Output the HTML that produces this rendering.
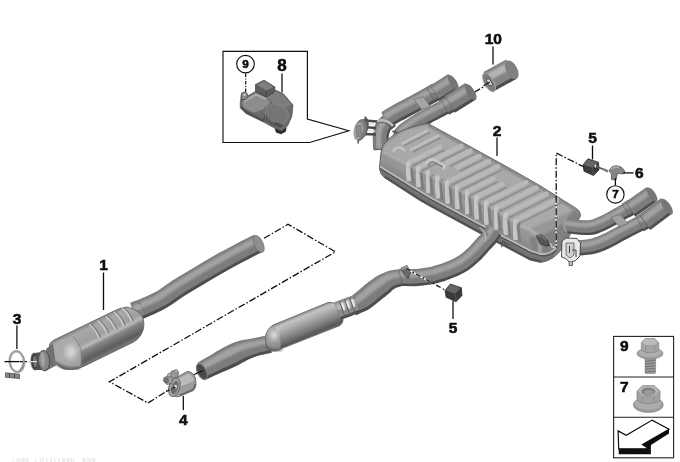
<!DOCTYPE html>
<html lang="en"><head><meta charset="utf-8"><title>Exhaust system</title>
<style>
html,body{margin:0;padding:0;background:#fff;}
body{width:680px;height:462px;overflow:hidden;position:relative;}
svg{display:block;position:absolute;left:0;top:0;}
text{font-family:"Liberation Sans",Arial,sans-serif;font-weight:bold;fill:#0a0a0a;stroke:#0a0a0a;stroke-width:0.55px;}
</style></head><body>
<svg width="680" height="462" viewBox="0 0 680 462">
<defs>
<filter id="b1" x="-20%" y="-20%" width="140%" height="140%"><feGaussianBlur stdDeviation="1.2"/></filter>
<filter id="b2" x="-20%" y="-20%" width="140%" height="140%"><feGaussianBlur stdDeviation="2.5"/></filter>
<filter id="b05" x="-20%" y="-20%" width="140%" height="140%"><feGaussianBlur stdDeviation="0.5"/></filter>
<filter id="soft2" x="-5%" y="-5%" width="110%" height="110%"><feGaussianBlur stdDeviation="0.3"/></filter>
<filter id="soft" x="-5%" y="-5%" width="110%" height="110%"><feGaussianBlur stdDeviation="0.45"/></filter>
<linearGradient id="mufTop" x1="0" y1="0" x2="1" y2="1">
<stop offset="0" stop-color="#a9a9a9"/><stop offset="0.5" stop-color="#b4b4b4"/><stop offset="1" stop-color="#9c9c9c"/>
</linearGradient>
<linearGradient id="catG" gradientUnits="userSpaceOnUse" x1="83" y1="327" x2="98.4" y2="357.8">
<stop offset="0" stop-color="#8c8c8c"/><stop offset="0.1" stop-color="#a9a9a9"/><stop offset="0.42" stop-color="#9f9f9f"/><stop offset="0.54" stop-color="#b9b9b9"/><stop offset="0.64" stop-color="#858585"/><stop offset="0.9" stop-color="#5c5c5c"/><stop offset="1" stop-color="#747474"/>
</linearGradient>
<linearGradient id="resG" gradientUnits="userSpaceOnUse" x1="300" y1="314" x2="309.8" y2="337.5">
<stop offset="0" stop-color="#8a8a8a"/><stop offset="0.13" stop-color="#c4c4c4"/><stop offset="0.32" stop-color="#b0b0b0"/><stop offset="0.52" stop-color="#949494"/><stop offset="0.72" stop-color="#787878"/><stop offset="0.92" stop-color="#565656"/><stop offset="1" stop-color="#6c6c6c"/>
</linearGradient>
</defs>
<rect width="680" height="462" fill="#fff"/>
<g filter="url(#soft)">

<path d="M264,238.3 L288,224.3 L335.5,251.8 L109.5,381.8 L148,403 L167,391" fill="none" stroke="#111" stroke-width="1.3" stroke-dasharray="7 2 1.5 2"/>
<path d="M474,92.5 L490,83" fill="none" stroke="#111" stroke-width="1.3" stroke-dasharray="7 2 1.5 2"/>
<path d="M20,361.6 L37,361.6" fill="none" stroke="#111" stroke-width="1.3" stroke-dasharray="7 2 1.5 2"/>
<path d="M193,375 L203,370.7" fill="none" stroke="#111" stroke-width="1.3" stroke-dasharray="7 2 1.5 2"/>
<path d="M258.5,244.0 C256.0,245.2 249.4,248.5 243.7,251.5 C238.0,254.5 231.5,257.9 224.2,262.0 C216.9,266.1 207.5,271.6 200.0,276.0 C192.5,280.4 184.8,284.9 179.0,288.6 C173.2,292.3 168.7,295.9 165.0,298.3 C161.3,300.7 160.3,301.1 157.0,302.8 C153.7,304.5 148.8,306.7 145.0,308.3 C141.2,309.9 135.8,311.6 134.0,312.3" fill="none" stroke="#4e4e4e" stroke-width="18" stroke-linecap="butt" stroke-linejoin="round"/>
<path d="M258.5,244.0 C256.0,245.2 249.4,248.5 243.7,251.5 C238.0,254.5 231.5,257.9 224.2,262.0 C216.9,266.1 207.5,271.6 200.0,276.0 C192.5,280.4 184.8,284.9 179.0,288.6 C173.2,292.3 168.7,295.9 165.0,298.3 C161.3,300.7 160.3,301.1 157.0,302.8 C153.7,304.5 148.8,306.7 145.0,308.3 C141.2,309.9 135.8,311.6 134.0,312.3" fill="none" stroke="#7b7b7b" stroke-width="16.4" stroke-linecap="butt" stroke-linejoin="round" transform="translate(-0.90,-1.98)"/>
<path d="M258.5,244.0 C256.0,245.2 249.4,248.5 243.7,251.5 C238.0,254.5 231.5,257.9 224.2,262.0 C216.9,266.1 207.5,271.6 200.0,276.0 C192.5,280.4 184.8,284.9 179.0,288.6 C173.2,292.3 168.7,295.9 165.0,298.3 C161.3,300.7 160.3,301.1 157.0,302.8 C153.7,304.5 148.8,306.7 145.0,308.3 C141.2,309.9 135.8,311.6 134.0,312.3" fill="none" stroke="#a2a2a2" stroke-width="6.5" stroke-linecap="butt" stroke-linejoin="round" transform="translate(-1.80,-3.96)" filter="url(#b1)"/>
<ellipse cx="258.7" cy="244" rx="4.4" ry="9.2" transform="rotate(-25 258.7 244)" fill="#8e8e8e" stroke="#6a6a6a" stroke-width="0.6"/>
<path d="M135.0,313.0 L143.0,309.3" fill="none" stroke="#4e4e4e" stroke-width="17.2" stroke-linecap="butt" stroke-linejoin="round"/>
<path d="M135.0,313.0 L143.0,309.3" fill="none" stroke="#828282" stroke-width="15.6" stroke-linecap="butt" stroke-linejoin="round" transform="translate(-0.86,-1.89)"/>
<path d="M135.0,313.0 L143.0,309.3" fill="none" stroke="#a8a8a8" stroke-width="6.2" stroke-linecap="butt" stroke-linejoin="round" transform="translate(-1.72,-3.78)" filter="url(#b1)"/>
<path d="M49.4,345 Q50,342 55,339.5 L112,312 Q120,307.6 127,307 Q139,309.5 143,318 Q145,326 142.5,331.5 Q140,338.5 133,342.3 L84,366.2 Q72,371.5 63,368.5 Q54,364 50,355 Z" fill="url(#catG)" stroke="#5a5a5a" stroke-width="0.8"/>
<path d="M50,347 Q56,340 72,336 Q84,350 80,367 Q68,372 57,364 Q52,358 50,352 Z" fill="#ababab" opacity="0.9" filter="url(#b05)"/>
<ellipse cx="71" cy="352" rx="5.5" ry="7" fill="#d4d4d4" filter="url(#b2)"/>
<path d="M55,362 Q64,371 80,367.5" fill="none" stroke="#5e5e5e" stroke-width="2.5" filter="url(#b1)"/>
<path d="M73,336 Q86,350 81,366.5" fill="none" stroke="#858585" stroke-width="0.9"/>
<path d="M89.5,324.5 q6,5 9.5,13.5" fill="none" stroke="#cdcdcd" stroke-width="1.6" opacity="0.95"/>
<path d="M91.1,324.0 q6,5 9.5,13.5" fill="none" stroke="#777" stroke-width="1.1" opacity="0.95"/>
<path d="M97.7,320.4 q6,5 9.5,13.5" fill="none" stroke="#cdcdcd" stroke-width="1.6" opacity="0.95"/>
<path d="M99.3,319.9 q6,5 9.5,13.5" fill="none" stroke="#777" stroke-width="1.1" opacity="0.95"/>
<path d="M105.9,316.3 q6,5 9.5,13.5" fill="none" stroke="#cdcdcd" stroke-width="1.6" opacity="0.95"/>
<path d="M107.5,315.8 q6,5 9.5,13.5" fill="none" stroke="#777" stroke-width="1.1" opacity="0.95"/>
<path d="M114.1,312.2 q6,5 9.5,13.5" fill="none" stroke="#cdcdcd" stroke-width="1.6" opacity="0.95"/>
<path d="M115.7,311.7 q6,5 9.5,13.5" fill="none" stroke="#777" stroke-width="1.1" opacity="0.95"/>
<path d="M122.3,308.1 q6,5 9.5,13.5" fill="none" stroke="#cdcdcd" stroke-width="1.6" opacity="0.95"/>
<path d="M123.9,307.6 q6,5 9.5,13.5" fill="none" stroke="#777" stroke-width="1.1" opacity="0.95"/>
<path d="M53,343.5 L46,349 L46,371 L56,365.5 Z" fill="#707070"/>
<path d="M34.5,353 L42,352 L42,370 L34.5,370 Z" fill="#4c4c4c"/>
<ellipse cx="44" cy="360.6" rx="5.6" ry="10.3" transform="rotate(-4 44 360.6)" fill="#858585" stroke="#4a4a4a" stroke-width="0.9"/>
<ellipse cx="42.8" cy="359.5" rx="2.2" ry="7.5" transform="rotate(-4 42.8 359.5)" fill="#a2a2a2" filter="url(#b05)"/>
<ellipse cx="34.6" cy="361.5" rx="3.7" ry="8.6" transform="rotate(-4 34.6 361.5)" fill="#3e3e3e" stroke="#6a6a6a" stroke-width="0.8"/>
<ellipse cx="35" cy="361.6" rx="1.9" ry="5.6" transform="rotate(-4 35 361.6)" fill="#7a7a7a"/>
<line x1="28" y1="361.6" x2="37" y2="361.6" stroke="#ddd" stroke-width="1.2"/>
<ellipse cx="16.9" cy="361.6" rx="6.9" ry="10.2" transform="rotate(-6 16.9 361.6)" fill="none" stroke="#a6a6a6" stroke-width="2"/>
<ellipse cx="16.9" cy="361.6" rx="7.9" ry="11.2" transform="rotate(-6 16.9 361.6)" fill="none" stroke="#7a7a7a" stroke-width="0.6"/>
<path d="M19.5,371 Q23,367 24.2,361" fill="none" stroke="#8a8a8a" stroke-width="1.4"/>
<path d="M5.5,372.8 L19.5,374.3 L19.5,378.6 L5.5,377.2 Z" fill="#888" stroke="#444" stroke-width="0.7"/>
<path d="M9.5,373.2 L9.5,377.6 M14.5,373.7 L14.5,378" stroke="#444" stroke-width="0.9"/>
<line x1="4.5" y1="361.6" x2="19.5" y2="361.6" stroke="#111" stroke-width="1.3"/>
<path d="M176.5,377.5 L187.5,371.3 Q195.5,372.5 196,382 Q196,389 192.5,390.8 L178,396.8 Q170,397 168.8,389 Q168.5,381 176.5,377.5 Z" fill="#9c9c9c" stroke="#5c5c5c" stroke-width="0.8"/>
<path d="M179,378.5 L188,373.5 Q193,375 194,381 L181,386.5 Z" fill="#c0c0c0" opacity="0.85" filter="url(#b05)"/>
<path d="M180,395.5 L192.5,390 Q195,387.5 195.3,384" fill="none" stroke="#6a6a6a" stroke-width="2" filter="url(#b05)"/>
<ellipse cx="174.4" cy="387.3" rx="5.2" ry="9.6" transform="rotate(18 174.4 387.3)" fill="#a8a8a8" stroke="#5c5c5c" stroke-width="0.8"/>
<ellipse cx="174.8" cy="387.6" rx="3.3" ry="7" transform="rotate(18 174.8 387.6)" fill="#6e6e6e"/>
<ellipse cx="175.6" cy="386.6" rx="1.3" ry="1.9" fill="#e8e8e8"/>
<path d="M163.3,381 L164,377.5 L169,376 L172.5,378 L172,383 L167,384.5 Z" fill="#a0a0a0" stroke="#555" stroke-width="0.7"/>
<path d="M170.5,375.5 L171,371.5 L176,370 L178.5,372 L178,377 L173,378 Z" fill="#9a9a9a" stroke="#555" stroke-width="0.7"/>
<circle cx="169.3" cy="375.2" r="1.9" fill="#b5b5b5" stroke="#555" stroke-width="0.6"/>
<circle cx="176" cy="371.5" r="1.9" fill="#b5b5b5" stroke="#555" stroke-width="0.6"/>
<ellipse cx="166.5" cy="380.5" rx="2" ry="2.6" fill="#777" stroke="#444" stroke-width="0.5"/>
<line x1="166" y1="391.5" x2="175.5" y2="387" stroke="#111" stroke-width="1.3" stroke-dasharray="4 1.5 1 1.5"/>
<path d="M206.0,379.6 C208.1,378.6 214.9,375.4 218.7,373.7 C222.5,372.0 225.4,370.9 228.7,369.4 C232.0,368.0 235.4,366.4 238.4,364.9 C241.5,363.3 243.9,361.7 247.0,360.2 C250.2,358.7 254.3,357.0 257.2,356.0 C260.2,355.0 262.4,354.8 264.8,354.2 C267.2,353.7 270.6,353.0 271.8,352.7 L268.2,336.3 C267.1,336.5 263.8,337.2 261.2,337.8 C258.6,338.3 256.3,338.9 252.8,339.6 C249.3,340.3 244.2,341.1 240.4,342.2 C236.5,343.3 233.0,344.8 229.6,346.3 C226.1,347.9 222.9,349.8 219.7,351.6 C216.5,353.4 213.9,355.0 210.3,357.1 C206.7,359.2 200.1,362.9 198.0,364.0 Z" fill="#4e4e4e"/>
<path d="M204.7,377.0 C206.9,375.9 213.7,372.7 217.4,370.9 C221.2,369.2 224.1,368.0 227.3,366.5 C230.6,365.0 234.0,363.4 237.0,361.9 C240.1,360.3 242.6,358.8 245.8,357.3 C249.0,355.9 253.2,354.3 256.2,353.4 C259.2,352.4 261.4,352.1 263.8,351.6 C266.2,351.0 269.6,350.3 270.8,350.1 L267.6,335.2 C266.4,335.5 263.1,336.2 260.5,336.7 C258.0,337.3 255.6,337.8 252.1,338.5 C248.7,339.2 243.5,339.8 239.7,340.8 C235.8,341.9 232.3,343.3 228.9,344.8 C225.5,346.4 222.3,348.3 219.1,350.1 C215.9,351.9 213.3,353.7 209.7,355.8 C206.1,357.9 199.5,361.6 197.5,362.8 Z" fill="#7b7b7b"/>
<path d="M201.7,370.8 C203.8,369.7 210.5,366.2 214.2,364.3 C217.8,362.4 220.6,361.0 223.8,359.3 C227.0,357.7 230.3,355.9 233.5,354.4 C236.7,352.9 239.6,351.5 243.0,350.2 C246.4,349.0 250.9,347.8 254.1,347.0 C257.3,346.2 259.5,345.8 262.0,345.3 C264.4,344.7 267.8,344.0 269.0,343.8 L267.7,337.8 C266.5,338.1 263.2,338.8 260.7,339.4 C258.1,339.9 255.9,340.4 252.5,341.1 C249.2,341.8 244.3,342.6 240.6,343.7 C236.9,344.8 233.7,346.2 230.4,347.8 C227.0,349.3 223.8,351.1 220.6,352.9 C217.4,354.6 214.7,356.3 211.1,358.3 C207.5,360.4 200.9,364.0 198.8,365.1 Z" fill="#a2a2a2" filter="url(#b1)"/>
<ellipse cx="201.8" cy="371.6" rx="4.4" ry="8.6" transform="rotate(-26 201.8 371.6)" fill="#484848" stroke="#7e7e7e" stroke-width="1.1"/>
<line x1="196" y1="373.8" x2="203.5" y2="370.5" stroke="#111" stroke-width="1.2"/>
<path d="M265.5,335 Q267.5,328.5 272.7,325.2 L327.5,302.7 Q334,301 338.8,307.5 Q343.3,314 343,320.3 Q342.5,324 340,325.5 L276.5,350.6 Q270.5,352 267.8,348 Q264.5,342 265.5,335 Z" fill="url(#resG)" stroke="#5a5a5a" stroke-width="0.8"/>
<path d="M265.5,336 Q268,329 274,325.5 Q283,337 280,350 Q272,352.5 268,348.5 Z" fill="#9a9a9a" opacity="0.8" filter="url(#b05)"/>
<ellipse cx="274" cy="335" rx="3.8" ry="5.5" fill="#e2e2e2" filter="url(#b2)"/>
<path d="M266.5,346 Q271,352.5 282,349" fill="none" stroke="#5c5c5c" stroke-width="2.2" filter="url(#b1)"/>
<path d="M381.5,150.0 C381.4,147.7 380.6,140.0 381.0,136.0 C381.4,132.0 382.3,128.7 384.0,126.0 C385.7,123.3 389.8,121.0 391.0,120.0" fill="none" stroke="#4e4e4e" stroke-width="15.5" stroke-linecap="butt" stroke-linejoin="round"/>
<path d="M381.5,150.0 C381.4,147.7 380.6,140.0 381.0,136.0 C381.4,132.0 382.3,128.7 384.0,126.0 C385.7,123.3 389.8,121.0 391.0,120.0" fill="none" stroke="#7b7b7b" stroke-width="13.9" stroke-linecap="butt" stroke-linejoin="round" transform="translate(-1.24,-0.78)"/>
<path d="M381.5,150.0 C381.4,147.7 380.6,140.0 381.0,136.0 C381.4,132.0 382.3,128.7 384.0,126.0 C385.7,123.3 389.8,121.0 391.0,120.0" fill="none" stroke="#a2a2a2" stroke-width="5.6" stroke-linecap="butt" stroke-linejoin="round" transform="translate(-2.48,-1.55)" filter="url(#b1)"/>
<path d="M386.0,120.5 C387.7,119.5 391.1,117.0 396.0,114.3 C400.9,111.5 408.7,107.7 415.5,104.0 C422.3,100.3 433.4,94.0 437.0,92.0" fill="none" stroke="#4e4e4e" stroke-width="16.6" stroke-linecap="butt" stroke-linejoin="round"/>
<path d="M386.0,120.5 C387.7,119.5 391.1,117.0 396.0,114.3 C400.9,111.5 408.7,107.7 415.5,104.0 C422.3,100.3 433.4,94.0 437.0,92.0" fill="none" stroke="#7b7b7b" stroke-width="15.0" stroke-linecap="butt" stroke-linejoin="round" transform="translate(-0.83,-1.83)"/>
<path d="M386.0,120.5 C387.7,119.5 391.1,117.0 396.0,114.3 C400.9,111.5 408.7,107.7 415.5,104.0 C422.3,100.3 433.4,94.0 437.0,92.0" fill="none" stroke="#a2a2a2" stroke-width="6.0" stroke-linecap="butt" stroke-linejoin="round" transform="translate(-1.66,-3.65)" filter="url(#b1)"/>
<path d="M431.0,95.5 L437.0,91.8" fill="none" stroke="#4e4e4e" stroke-width="16" stroke-linecap="butt" stroke-linejoin="round"/>
<path d="M431.0,95.5 L437.0,91.8" fill="none" stroke="#7b7b7b" stroke-width="14.4" stroke-linecap="butt" stroke-linejoin="round" transform="translate(-0.80,-1.76)"/>
<path d="M431.0,95.5 L437.0,91.8" fill="none" stroke="#a2a2a2" stroke-width="5.8" stroke-linecap="butt" stroke-linejoin="round" transform="translate(-1.60,-3.52)" filter="url(#b1)"/>
<path d="M435.0,94.0 L453.3,82.4" fill="none" stroke="#4e4e4e" stroke-width="17" stroke-linecap="butt" stroke-linejoin="round"/>
<path d="M435.0,94.0 L453.3,82.4" fill="none" stroke="#7b7b7b" stroke-width="15.4" stroke-linecap="butt" stroke-linejoin="round" transform="translate(-0.85,-1.87)"/>
<path d="M435.0,94.0 L453.3,82.4" fill="none" stroke="#a2a2a2" stroke-width="6.1" stroke-linecap="butt" stroke-linejoin="round" transform="translate(-1.70,-3.74)" filter="url(#b1)"/>
<ellipse cx="453.3" cy="82.4" rx="3.4" ry="8.5" transform="rotate(-33 453.3 82.4)" fill="#747474"/>
<path d="M400.0,136.0 C400.7,135.2 402.5,132.9 404.0,131.5 C405.5,130.1 406.7,129.4 409.2,127.7 C411.7,126.0 415.8,123.5 419.0,121.5 C422.2,119.5 425.2,117.9 428.7,116.0 C432.2,114.1 436.1,112.0 440.0,110.0 C443.9,108.0 450.0,104.8 452.0,103.8" fill="none" stroke="#4e4e4e" stroke-width="14.5" stroke-linecap="butt" stroke-linejoin="round"/>
<path d="M400.0,136.0 C400.7,135.2 402.5,132.9 404.0,131.5 C405.5,130.1 406.7,129.4 409.2,127.7 C411.7,126.0 415.8,123.5 419.0,121.5 C422.2,119.5 425.2,117.9 428.7,116.0 C432.2,114.1 436.1,112.0 440.0,110.0 C443.9,108.0 450.0,104.8 452.0,103.8" fill="none" stroke="#7b7b7b" stroke-width="12.9" stroke-linecap="butt" stroke-linejoin="round" transform="translate(-0.73,-1.59)"/>
<path d="M400.0,136.0 C400.7,135.2 402.5,132.9 404.0,131.5 C405.5,130.1 406.7,129.4 409.2,127.7 C411.7,126.0 415.8,123.5 419.0,121.5 C422.2,119.5 425.2,117.9 428.7,116.0 C432.2,114.1 436.1,112.0 440.0,110.0 C443.9,108.0 450.0,104.8 452.0,103.8" fill="none" stroke="#a2a2a2" stroke-width="5.2" stroke-linecap="butt" stroke-linejoin="round" transform="translate(-1.45,-3.19)" filter="url(#b1)"/>
<path d="M445.0,107.8 L452.0,103.6" fill="none" stroke="#4e4e4e" stroke-width="16.3" stroke-linecap="butt" stroke-linejoin="round"/>
<path d="M445.0,107.8 L452.0,103.6" fill="none" stroke="#7b7b7b" stroke-width="14.7" stroke-linecap="butt" stroke-linejoin="round" transform="translate(-0.82,-1.79)"/>
<path d="M445.0,107.8 L452.0,103.6" fill="none" stroke="#a2a2a2" stroke-width="5.9" stroke-linecap="butt" stroke-linejoin="round" transform="translate(-1.63,-3.59)" filter="url(#b1)"/>
<path d="M450.0,105.0 L470.8,92.0" fill="none" stroke="#4e4e4e" stroke-width="18.3" stroke-linecap="butt" stroke-linejoin="round"/>
<path d="M450.0,105.0 L470.8,92.0" fill="none" stroke="#7b7b7b" stroke-width="16.7" stroke-linecap="butt" stroke-linejoin="round" transform="translate(-0.92,-2.01)"/>
<path d="M450.0,105.0 L470.8,92.0" fill="none" stroke="#a2a2a2" stroke-width="6.6" stroke-linecap="butt" stroke-linejoin="round" transform="translate(-1.83,-4.03)" filter="url(#b1)"/>
<ellipse cx="470.8" cy="92" rx="3.7" ry="9.2" transform="rotate(-33 470.8 92)" fill="#747474"/>
<path d="M414,99.5 L423,96.5 L430,106 L421.5,109.5 Z" fill="#a5a5a5" stroke="#6a6a6a" stroke-width="0.6"/>
<path d="M377,121.5 Q385,117.5 393,126" fill="none" stroke="#bdbdbd" stroke-width="2.6"/>
<path d="M376.5,123.5 Q385,119.5 392.5,128" fill="none" stroke="#555" stroke-width="0.8"/>
<path d="M364,120.5 L377,121.5 M364,127 L376,128 M363,134 L376,134.5" stroke="#4a4a4a" stroke-width="2.6" fill="none"/>
<path d="M366,123.8 L375,124.6 M366,130.6 L375,131.2" stroke="#e6e6e6" stroke-width="1.6" fill="none"/>
<ellipse cx="364" cy="128" rx="4.2" ry="10.5" transform="rotate(14 364 128)" fill="#5e5e5e"/>
<ellipse cx="360.5" cy="130" rx="6" ry="10.8" transform="rotate(14 360.5 130)" fill="#7d7d7d" stroke="#555" stroke-width="0.6"/>
<ellipse cx="358.3" cy="131" rx="4.4" ry="9" transform="rotate(14 358.3 131)" fill="#a6a6a6"/>
<path d="M356,126 L361,125 L361.5,136 L356.5,137 Z" fill="#8a8a8a" stroke="#666" stroke-width="0.5"/>
<path d="M365,116.5 L367,121 M358.5,140 L358,143.5" stroke="#555" stroke-width="1.6" fill="none"/>
<path d="M392,131 L397,133.5 M395,130 L394,135" stroke="#444" stroke-width="1.1"/>
<clipPath id="mclip"><path d="M381,153 C381.5,143 392,134.5 404,130 C412,127 420,124.5 428,123.5 L470.0,146.5 L510.0,168.5 L540.0,185.7 L566.0,202.0 L575.7,208.1 Q580.5,211 580.6,215.7 L574,228 L563,247 Q555,260 541,262.5 L541.0,262.5 L530.0,260.0 L482.0,234.5 L430.0,206.3 L419.0,200.0 L385.0,178.0 Q379.5,174 379.5,167 Z"/></clipPath>
<path d="M381,153 C381.5,143 392,134.5 404,130 C412,127 420,124.5 428,123.5 L470.0,146.5 L510.0,168.5 L540.0,185.7 L566.0,202.0 L575.7,208.1 Q580.5,211 580.6,215.7 L574,228 L563,247 Q555,260 541,262.5 L541.0,262.5 L530.0,260.0 L482.0,234.5 L430.0,206.3 L419.0,200.0 L385.0,178.0 Q379.5,174 379.5,167 Z" fill="#979797" stroke="#5a5a5a" stroke-width="1"/>
<g clip-path="url(#mclip)">
<path d="M380.0,159.5 L420.0,184.3 L430.0,190.2 L460.0,206.5 L487.0,221.0 L531.0,244.0 L541.0,247.0 L541.0,257.0 L531.0,254.0 L487.0,231.0 L460.0,216.5 L430.0,200.2 L420.0,194.3 L380.0,169.5 Z" fill="#888888" filter="url(#b2)"/>
<path d="M428.0,124.5 L470.0,147.5 L510.0,169.5 L540.0,186.7 L566.0,203.0 L575.7,209.1 L527.0,230.0 L513.4,220.0 L490.0,205.0 L460.0,189.0 L430.0,173.7 L405.0,161.5 L383.0,150.5 L384,146 L404,131 Z" fill="#a9a9a9" filter="url(#b1)"/>
<path d="M574,210 L584,214 L562,252 L540,266 L529,238 Q548,236 564,222 Z" fill="#808080" filter="url(#b1)"/>
<path d="M515,224 Q531,228 538,236 Q541,248 540,262" stroke="#b4b4b4" stroke-width="2.6" fill="none" filter="url(#b1)"/>
<path d="M428.0,125.0 L470.0,148.0 L510.0,170.0 L540.0,187.2 L566.0,203.5 L575.7,209.6" stroke="#848484" stroke-width="3" fill="none" filter="url(#b1)"/>
<path d="M440.4,146.8 L410.0,162.0" stroke="#b9b9b9" stroke-width="4.6" stroke-linecap="round" fill="none" filter="url(#b05)"/>
<path d="M444.0,150.2 L413.6,165.4" stroke="#8e8e8e" stroke-width="1.7" stroke-linecap="round" fill="none" filter="url(#b05)"/>
<path d="M410.0,162.0 Q407.2,164.0 407.4,167.5 L409.0,181.2" stroke="#c6c6c6" stroke-width="4.4" fill="none" filter="url(#b05)"/>
<path d="M413.8,165.3 Q411.4,166.5 411.6,170.0 L413.1,182.7" stroke="#7c7c7c" stroke-width="2.4" fill="none" filter="url(#b05)"/>
<path d="M461.4,145.9 L419.7,166.7" stroke="#b9b9b9" stroke-width="4.6" stroke-linecap="round" fill="none" filter="url(#b05)"/>
<path d="M465.0,149.3 L423.3,170.1" stroke="#8e8e8e" stroke-width="1.7" stroke-linecap="round" fill="none" filter="url(#b05)"/>
<path d="M419.7,166.7 Q416.9,168.7 417.1,172.2 L418.7,187.3" stroke="#c6c6c6" stroke-width="4.4" fill="none" filter="url(#b05)"/>
<path d="M423.5,170.0 Q421.1,171.2 421.3,174.7 L422.8,188.8" stroke="#7c7c7c" stroke-width="2.4" fill="none" filter="url(#b05)"/>
<path d="M470.4,150.9 L447.4,162.4" stroke="#b9b9b9" stroke-width="4.6" stroke-linecap="round" fill="none" filter="url(#b05)"/>
<path d="M474.0,154.3 L451.0,165.8" stroke="#8e8e8e" stroke-width="1.7" stroke-linecap="round" fill="none" filter="url(#b05)"/>
<path d="M429.4,171.4 Q426.6,173.4 426.8,176.9 L428.4,193.1" stroke="#c6c6c6" stroke-width="4.4" fill="none" filter="url(#b05)"/>
<path d="M433.2,174.7 Q430.8,175.9 431.0,179.4 L432.5,194.6" stroke="#7c7c7c" stroke-width="2.4" fill="none" filter="url(#b05)"/>
<path d="M479.5,156.1 L457.1,167.3" stroke="#b9b9b9" stroke-width="4.6" stroke-linecap="round" fill="none" filter="url(#b05)"/>
<path d="M483.1,159.5 L460.7,170.7" stroke="#8e8e8e" stroke-width="1.7" stroke-linecap="round" fill="none" filter="url(#b05)"/>
<path d="M439.1,176.3 Q436.3,178.3 436.5,181.8 L438.1,198.5" stroke="#c6c6c6" stroke-width="4.4" fill="none" filter="url(#b05)"/>
<path d="M442.9,179.6 Q440.5,180.8 440.7,184.3 L442.2,200.0" stroke="#7c7c7c" stroke-width="2.4" fill="none" filter="url(#b05)"/>
<path d="M488.8,161.3 L448.8,181.3" stroke="#b9b9b9" stroke-width="4.6" stroke-linecap="round" fill="none" filter="url(#b05)"/>
<path d="M492.4,164.7 L452.4,184.7" stroke="#8e8e8e" stroke-width="1.7" stroke-linecap="round" fill="none" filter="url(#b05)"/>
<path d="M448.8,181.3 Q446.0,183.3 446.2,186.8 L447.8,203.8" stroke="#c6c6c6" stroke-width="4.4" fill="none" filter="url(#b05)"/>
<path d="M452.6,184.6 Q450.2,185.8 450.4,189.3 L451.9,205.3" stroke="#7c7c7c" stroke-width="2.4" fill="none" filter="url(#b05)"/>
<path d="M498.0,166.5 L458.5,186.2" stroke="#b9b9b9" stroke-width="4.6" stroke-linecap="round" fill="none" filter="url(#b05)"/>
<path d="M501.6,169.9 L462.1,189.6" stroke="#8e8e8e" stroke-width="1.7" stroke-linecap="round" fill="none" filter="url(#b05)"/>
<path d="M458.5,186.2 Q455.7,188.2 455.9,191.7 L457.5,209.1" stroke="#c6c6c6" stroke-width="4.4" fill="none" filter="url(#b05)"/>
<path d="M462.3,189.5 Q459.9,190.7 460.1,194.2 L461.6,210.6" stroke="#7c7c7c" stroke-width="2.4" fill="none" filter="url(#b05)"/>
<path d="M493.3,178.7 L468.2,191.3" stroke="#b9b9b9" stroke-width="4.6" stroke-linecap="round" fill="none" filter="url(#b05)"/>
<path d="M496.9,182.1 L471.8,194.7" stroke="#8e8e8e" stroke-width="1.7" stroke-linecap="round" fill="none" filter="url(#b05)"/>
<path d="M468.2,191.3 Q465.4,193.3 465.6,196.8 L467.2,214.3" stroke="#c6c6c6" stroke-width="4.4" fill="none" filter="url(#b05)"/>
<path d="M472.0,194.6 Q469.6,195.8 469.8,199.3 L471.3,215.8" stroke="#7c7c7c" stroke-width="2.4" fill="none" filter="url(#b05)"/>
<path d="M502.7,184.0 L477.9,196.4" stroke="#b9b9b9" stroke-width="4.6" stroke-linecap="round" fill="none" filter="url(#b05)"/>
<path d="M506.3,187.4 L481.5,199.8" stroke="#8e8e8e" stroke-width="1.7" stroke-linecap="round" fill="none" filter="url(#b05)"/>
<path d="M477.9,196.4 Q475.1,198.4 475.3,201.9 L476.9,219.5" stroke="#c6c6c6" stroke-width="4.4" fill="none" filter="url(#b05)"/>
<path d="M481.7,199.7 Q479.3,200.9 479.5,204.4 L481.0,221.0" stroke="#7c7c7c" stroke-width="2.4" fill="none" filter="url(#b05)"/>
<path d="M526.2,182.3 L487.6,201.6" stroke="#b9b9b9" stroke-width="4.6" stroke-linecap="round" fill="none" filter="url(#b05)"/>
<path d="M529.8,185.7 L491.2,205.0" stroke="#8e8e8e" stroke-width="1.7" stroke-linecap="round" fill="none" filter="url(#b05)"/>
<path d="M487.6,201.6 Q484.8,203.6 485.0,207.1 L486.6,224.7" stroke="#c6c6c6" stroke-width="4.4" fill="none" filter="url(#b05)"/>
<path d="M491.4,204.9 Q489.0,206.1 489.2,209.6 L490.7,226.2" stroke="#7c7c7c" stroke-width="2.4" fill="none" filter="url(#b05)"/>
<path d="M536.1,187.9 L497.3,207.3" stroke="#b9b9b9" stroke-width="4.6" stroke-linecap="round" fill="none" filter="url(#b05)"/>
<path d="M539.7,191.3 L500.9,210.7" stroke="#8e8e8e" stroke-width="1.7" stroke-linecap="round" fill="none" filter="url(#b05)"/>
<path d="M497.3,207.3 Q494.5,209.3 494.7,212.8 L496.3,229.8" stroke="#c6c6c6" stroke-width="4.4" fill="none" filter="url(#b05)"/>
<path d="M501.1,210.6 Q498.7,211.8 498.9,215.3 L500.4,231.3" stroke="#7c7c7c" stroke-width="2.4" fill="none" filter="url(#b05)"/>
<path d="M546.5,193.7 L507.0,213.5" stroke="#b9b9b9" stroke-width="4.6" stroke-linecap="round" fill="none" filter="url(#b05)"/>
<path d="M550.1,197.1 L510.6,216.9" stroke="#8e8e8e" stroke-width="1.7" stroke-linecap="round" fill="none" filter="url(#b05)"/>
<path d="M507.0,213.5 Q504.2,215.5 504.4,219.0 L506.0,234.9" stroke="#c6c6c6" stroke-width="4.4" fill="none" filter="url(#b05)"/>
<path d="M510.8,216.8 Q508.4,218.0 508.6,221.5 L510.1,236.4" stroke="#7c7c7c" stroke-width="2.4" fill="none" filter="url(#b05)"/>
<path d="M556.9,199.6 L516.7,219.7" stroke="#b9b9b9" stroke-width="4.6" stroke-linecap="round" fill="none" filter="url(#b05)"/>
<path d="M560.5,203.0 L520.3,223.1" stroke="#8e8e8e" stroke-width="1.7" stroke-linecap="round" fill="none" filter="url(#b05)"/>
<path d="M516.7,219.7 Q513.9,221.7 514.1,225.2 L515.7,240.0" stroke="#c6c6c6" stroke-width="4.4" fill="none" filter="url(#b05)"/>
<path d="M520.5,223.0 Q518.1,224.2 518.3,227.7 L519.8,241.5" stroke="#7c7c7c" stroke-width="2.4" fill="none" filter="url(#b05)"/>
<path d="M402.4,143.3 L427,130.7" stroke="#c0c0c0" stroke-width="2.6" stroke-linecap="round" fill="none" filter="url(#b05)"/>
<path d="M404.59999999999997,145.5 L429.2,132.89999999999998" stroke="#8c8c8c" stroke-width="1.5" stroke-linecap="round" fill="none" filter="url(#b05)"/>
<path d="M410.9,149.7 L438.3,135.6" stroke="#c0c0c0" stroke-width="2.6" stroke-linecap="round" fill="none" filter="url(#b05)"/>
<path d="M413.09999999999997,151.89999999999998 L440.5,137.79999999999998" stroke="#8c8c8c" stroke-width="1.5" stroke-linecap="round" fill="none" filter="url(#b05)"/>
<path d="M383.0,152.0 L405.0,163.0 L430.0,175.2 L460.0,190.5 L490.0,206.5 L513.4,221.5" stroke="#c8c8c8" stroke-width="1.6" fill="none" filter="url(#b1)" opacity="0.8"/>
<path d="M393,151.5 Q395,147 400,147.5 L405,150.5" stroke="#c8c8c8" stroke-width="2" fill="none" filter="url(#b05)"/>
<path d="M426,164 Q428,158.5 433.5,159.5 L445,165.5 L443,169.5" stroke="#cacaca" stroke-width="2.2" fill="none" filter="url(#b05)"/>
<path d="M428,166 Q430,161.5 434,162.2 L442.5,166.8" stroke="#808080" stroke-width="1.4" fill="none" filter="url(#b05)"/>
<path d="M380.0,168.0 L420.0,192.8 L430.0,198.7 L460.0,215.0 L487.0,229.5 L531.0,252.5 L541.0,255.5 L556,250 L548,272 L541.0,266.5 L530.0,264.0 L482.0,238.5 L430.0,210.3 L419.0,204.0 L385.0,182.0 L375,170 Z" fill="#737373" filter="url(#b05)"/>
<path d="M385.0,176.8 L419.0,198.8 L430.0,205.1 L482.0,233.3 L530.0,258.8 L541.0,261.3" stroke="#4e4e4e" stroke-width="1.8" fill="none" filter="url(#b05)"/>
<path d="M380.0,166.5 L420.0,191.3 L430.0,197.2 L460.0,213.5 L487.0,228.0 L531.0,251.0 L541.0,254.0 Q549,255 556,248" stroke="#bcbcbc" stroke-width="1.6" fill="none"/>
<path d="M380.0,168.3 L420.0,193.1 L430.0,199.0 L460.0,215.3 L487.0,229.8 L531.0,252.8 L541.0,255.8 Q550,257 557,250" stroke="#4a4a4a" stroke-width="1" fill="none"/>
</g>
<path d="M399.5,277.9 C401.9,277.9 410.1,278.2 414.1,278.1 C418.2,278.0 420.6,277.6 423.8,277.2 C427.1,276.8 430.2,276.4 433.6,275.6 C437.1,274.8 441.1,273.5 444.5,272.4 C447.9,271.2 450.9,270.2 454.2,268.7 C457.4,267.2 460.8,265.6 464.0,263.4 C467.2,261.2 470.4,258.5 473.7,255.3 C477.0,252.1 481.0,247.3 483.8,244.3 C486.6,241.3 488.6,239.5 490.3,237.3 C492.0,235.1 493.4,232.1 494.0,231.0" fill="none" stroke="#4e4e4e" stroke-width="16.2" stroke-linecap="butt" stroke-linejoin="round"/>
<path d="M399.5,277.9 C401.9,277.9 410.1,278.2 414.1,278.1 C418.2,278.0 420.6,277.6 423.8,277.2 C427.1,276.8 430.2,276.4 433.6,275.6 C437.1,274.8 441.1,273.5 444.5,272.4 C447.9,271.2 450.9,270.2 454.2,268.7 C457.4,267.2 460.8,265.6 464.0,263.4 C467.2,261.2 470.4,258.5 473.7,255.3 C477.0,252.1 481.0,247.3 483.8,244.3 C486.6,241.3 488.6,239.5 490.3,237.3 C492.0,235.1 493.4,232.1 494.0,231.0" fill="none" stroke="#7b7b7b" stroke-width="14.6" stroke-linecap="butt" stroke-linejoin="round" transform="translate(-0.81,-1.78)"/>
<path d="M399.5,277.9 C401.9,277.9 410.1,278.2 414.1,278.1 C418.2,278.0 420.6,277.6 423.8,277.2 C427.1,276.8 430.2,276.4 433.6,275.6 C437.1,274.8 441.1,273.5 444.5,272.4 C447.9,271.2 450.9,270.2 454.2,268.7 C457.4,267.2 460.8,265.6 464.0,263.4 C467.2,261.2 470.4,258.5 473.7,255.3 C477.0,252.1 481.0,247.3 483.8,244.3 C486.6,241.3 488.6,239.5 490.3,237.3 C492.0,235.1 493.4,232.1 494.0,231.0" fill="none" stroke="#a2a2a2" stroke-width="5.8" stroke-linecap="butt" stroke-linejoin="round" transform="translate(-1.62,-3.56)" filter="url(#b1)"/>
<path d="M356.1,315.2 C357.2,314.7 360.3,313.4 362.6,312.3 C364.9,311.2 367.1,310.5 370.0,308.5 C373.0,306.5 377.0,303.1 380.2,300.6 C383.4,298.0 387.0,295.2 389.3,293.3 C391.7,291.3 392.1,289.9 394.4,288.7 C396.7,287.4 401.6,286.3 403.0,285.8 L399.0,270.2 C397.1,270.6 391.1,271.3 387.6,272.5 C384.1,273.7 381.4,275.3 378.1,277.3 C374.8,279.4 371.1,282.1 367.8,284.6 C364.5,287.2 360.8,290.6 358.4,292.5 C356.0,294.4 355.1,295.1 353.4,296.3 C351.7,297.5 348.8,299.2 347.9,299.8 Z" fill="#4e4e4e"/>
<path d="M354.9,312.6 C355.9,312.1 359.0,310.7 361.3,309.6 C363.6,308.4 365.7,307.6 368.6,305.7 C371.5,303.7 375.5,300.2 378.7,297.7 C381.9,295.2 385.5,292.4 387.9,290.5 C390.3,288.5 390.9,287.2 393.2,286.0 C395.6,284.8 400.6,283.7 402.0,283.3 L398.4,269.2 C396.5,269.5 390.5,270.2 387.0,271.4 C383.6,272.5 380.9,273.9 377.6,275.8 C374.3,277.8 370.6,280.5 367.3,283.0 C364.0,285.6 360.2,289.0 357.8,291.0 C355.4,293.0 354.6,293.7 352.9,294.9 C351.1,296.2 348.3,298.0 347.4,298.6 Z" fill="#7b7b7b"/>
<path d="M351.7,306.4 C352.7,305.9 355.7,304.4 357.8,303.1 C359.9,301.9 361.6,301.0 364.3,299.0 C367.1,297.0 371.0,293.5 374.2,291.0 C377.5,288.5 381.1,285.8 383.8,283.9 C386.5,282.0 387.8,280.8 390.5,279.7 C393.2,278.5 398.5,277.7 400.1,277.3 L398.6,271.6 C396.9,272.0 391.2,272.8 388.0,273.8 C384.9,274.9 382.8,276.2 379.7,278.1 C376.7,280.0 373.0,282.8 369.7,285.3 C366.5,287.8 362.7,291.3 360.1,293.3 C357.6,295.3 356.4,296.1 354.5,297.3 C352.6,298.6 349.7,300.3 348.8,300.9 Z" fill="#a2a2a2" filter="url(#b1)"/>
<path d="M338.0,311.5 C339.5,310.9 343.8,309.4 347.0,308.2 C350.2,307.0 355.8,304.9 357.5,304.3" fill="none" stroke="#4e4e4e" stroke-width="17.5" stroke-linecap="butt" stroke-linejoin="round"/>
<path d="M338.0,311.5 C339.5,310.9 343.8,309.4 347.0,308.2 C350.2,307.0 355.8,304.9 357.5,304.3" fill="none" stroke="#8c8c8c" stroke-width="15.9" stroke-linecap="butt" stroke-linejoin="round" transform="translate(-0.88,-1.93)"/>
<path d="M338.0,311.5 C339.5,310.9 343.8,309.4 347.0,308.2 C350.2,307.0 355.8,304.9 357.5,304.3" fill="none" stroke="#b8b8b8" stroke-width="6.3" stroke-linecap="butt" stroke-linejoin="round" transform="translate(-1.75,-3.85)" filter="url(#b1)"/>
<line x1="339.5" y1="301.5" x2="345.5" y2="318.1" stroke="#5e5e5e" stroke-width="1"/>
<line x1="341.9" y1="302.8" x2="344.5" y2="310.3" stroke="#ececec" stroke-width="1.9" filter="url(#b05)"/>
<line x1="344.5" y1="299.7" x2="350.5" y2="316.3" stroke="#5e5e5e" stroke-width="1"/>
<line x1="346.9" y1="301.0" x2="349.5" y2="308.5" stroke="#ececec" stroke-width="1.9" filter="url(#b05)"/>
<line x1="349.5" y1="297.9" x2="355.5" y2="314.5" stroke="#5e5e5e" stroke-width="1"/>
<line x1="351.9" y1="299.2" x2="354.5" y2="306.7" stroke="#ececec" stroke-width="1.9" filter="url(#b05)"/>
<path d="M401,268 L407,265.5 L410.5,272 L408,279 L404.5,275 Z" fill="#6a6a6a" stroke="#3c3c3c" stroke-width="0.7"/>
<path d="M401,268 L407,265.5 L408,267.5 L402.5,270 Z" fill="#9a9a9a"/>
<path d="M478,226 Q487,232 484.5,240 L489,234 Z" fill="#858585"/>
<path d="M479.5,227.5 Q487,232 485.5,241" fill="none" stroke="#b4b4b4" stroke-width="1.4" filter="url(#b05)"/>
<path d="M501,247.5 Q505,243 514,246.5 L502,240 Z" fill="#5a5a5a"/>
<path d="M406,268.5 L430.5,282" fill="none" stroke="#e8e8e8" stroke-width="1.5"/>
<path d="M406,268.5 L447,291" fill="none" stroke="#111" stroke-width="1.25" stroke-dasharray="5 2.5 1.5 2.5"/>
<path d="M565.0,226.0 C567.5,226.3 576.0,227.5 580.0,227.8 C584.0,228.1 586.8,228.1 589.3,228.0 C591.8,227.9 592.5,227.8 595.0,227.0 C597.5,226.2 600.9,224.7 604.0,223.2 C607.1,221.7 610.2,219.9 613.7,218.0 C617.2,216.1 621.6,213.5 625.0,211.6 C628.4,209.7 632.5,207.2 634.0,206.3" fill="none" stroke="#4e4e4e" stroke-width="14" stroke-linecap="butt" stroke-linejoin="round"/>
<path d="M565.0,226.0 C567.5,226.3 576.0,227.5 580.0,227.8 C584.0,228.1 586.8,228.1 589.3,228.0 C591.8,227.9 592.5,227.8 595.0,227.0 C597.5,226.2 600.9,224.7 604.0,223.2 C607.1,221.7 610.2,219.9 613.7,218.0 C617.2,216.1 621.6,213.5 625.0,211.6 C628.4,209.7 632.5,207.2 634.0,206.3" fill="none" stroke="#7b7b7b" stroke-width="12.4" stroke-linecap="butt" stroke-linejoin="round" transform="translate(-0.70,-1.54)"/>
<path d="M565.0,226.0 C567.5,226.3 576.0,227.5 580.0,227.8 C584.0,228.1 586.8,228.1 589.3,228.0 C591.8,227.9 592.5,227.8 595.0,227.0 C597.5,226.2 600.9,224.7 604.0,223.2 C607.1,221.7 610.2,219.9 613.7,218.0 C617.2,216.1 621.6,213.5 625.0,211.6 C628.4,209.7 632.5,207.2 634.0,206.3" fill="none" stroke="#a2a2a2" stroke-width="5.0" stroke-linecap="butt" stroke-linejoin="round" transform="translate(-1.40,-3.08)" filter="url(#b1)"/>
<path d="M626.0,211.0 L632.0,207.3" fill="none" stroke="#4e4e4e" stroke-width="14.8" stroke-linecap="butt" stroke-linejoin="round"/>
<path d="M626.0,211.0 L632.0,207.3" fill="none" stroke="#7b7b7b" stroke-width="13.2" stroke-linecap="butt" stroke-linejoin="round" transform="translate(-0.74,-1.63)"/>
<path d="M626.0,211.0 L632.0,207.3" fill="none" stroke="#a2a2a2" stroke-width="5.3" stroke-linecap="butt" stroke-linejoin="round" transform="translate(-1.48,-3.26)" filter="url(#b1)"/>
<path d="M630.5,210.0 L652.0,194.8" fill="none" stroke="#4e4e4e" stroke-width="16.5" stroke-linecap="butt" stroke-linejoin="round"/>
<path d="M630.5,210.0 L652.0,194.8" fill="none" stroke="#7b7b7b" stroke-width="14.9" stroke-linecap="butt" stroke-linejoin="round" transform="translate(-0.83,-1.81)"/>
<path d="M630.5,210.0 L652.0,194.8" fill="none" stroke="#a2a2a2" stroke-width="5.9" stroke-linecap="butt" stroke-linejoin="round" transform="translate(-1.65,-3.63)" filter="url(#b1)"/>
<ellipse cx="652" cy="194.5" rx="3.4" ry="8.3" transform="rotate(-35 652 194.5)" fill="#767676"/>
<path d="M574.0,248.5 C577.0,248.2 586.7,247.9 592.0,246.8 C597.3,245.7 600.9,244.1 606.0,241.8 C611.1,239.5 616.8,236.0 622.5,233.0 C628.2,230.0 635.4,226.3 640.0,224.0 C644.6,221.7 648.3,219.8 650.0,219.0" fill="none" stroke="#4e4e4e" stroke-width="14.5" stroke-linecap="butt" stroke-linejoin="round"/>
<path d="M574.0,248.5 C577.0,248.2 586.7,247.9 592.0,246.8 C597.3,245.7 600.9,244.1 606.0,241.8 C611.1,239.5 616.8,236.0 622.5,233.0 C628.2,230.0 635.4,226.3 640.0,224.0 C644.6,221.7 648.3,219.8 650.0,219.0" fill="none" stroke="#7b7b7b" stroke-width="12.9" stroke-linecap="butt" stroke-linejoin="round" transform="translate(-0.73,-1.59)"/>
<path d="M574.0,248.5 C577.0,248.2 586.7,247.9 592.0,246.8 C597.3,245.7 600.9,244.1 606.0,241.8 C611.1,239.5 616.8,236.0 622.5,233.0 C628.2,230.0 635.4,226.3 640.0,224.0 C644.6,221.7 648.3,219.8 650.0,219.0" fill="none" stroke="#a2a2a2" stroke-width="5.2" stroke-linecap="butt" stroke-linejoin="round" transform="translate(-1.45,-3.19)" filter="url(#b1)"/>
<path d="M640.0,224.5 L646.5,221.0" fill="none" stroke="#4e4e4e" stroke-width="15.6" stroke-linecap="butt" stroke-linejoin="round"/>
<path d="M640.0,224.5 L646.5,221.0" fill="none" stroke="#7b7b7b" stroke-width="14.0" stroke-linecap="butt" stroke-linejoin="round" transform="translate(-0.78,-1.72)"/>
<path d="M640.0,224.5 L646.5,221.0" fill="none" stroke="#a2a2a2" stroke-width="5.6" stroke-linecap="butt" stroke-linejoin="round" transform="translate(-1.56,-3.43)" filter="url(#b1)"/>
<path d="M645.0,223.0 L667.0,206.5" fill="none" stroke="#4e4e4e" stroke-width="17.8" stroke-linecap="butt" stroke-linejoin="round"/>
<path d="M645.0,223.0 L667.0,206.5" fill="none" stroke="#7b7b7b" stroke-width="16.2" stroke-linecap="butt" stroke-linejoin="round" transform="translate(-0.89,-1.96)"/>
<path d="M645.0,223.0 L667.0,206.5" fill="none" stroke="#a2a2a2" stroke-width="6.4" stroke-linecap="butt" stroke-linejoin="round" transform="translate(-1.78,-3.92)" filter="url(#b1)"/>
<ellipse cx="667" cy="206.5" rx="3.6" ry="9" transform="rotate(-35 667 206.5)" fill="#767676"/>
<path d="M611,217 L620,214.5 L628,223.5 L619,226.5 Z" fill="#a0a0a0" stroke="#6a6a6a" stroke-width="0.6"/>
<path d="M566,217.5 Q562,225 566.5,233" stroke="#9a9a9a" stroke-width="2.2" fill="none"/>
<path d="M556.2,200 L556.2,247.5 L549,244" fill="none" stroke="#f4f4f4" stroke-width="1.4"/>
<path d="M585,167.5 L556.2,153 L556.2,247.5 L548,244" fill="none" stroke="#111" stroke-width="1.3" stroke-dasharray="7 2 1.5 2"/>
<path d="M562,241 L566,238 L577,238.5 L580.5,243 L580,256 L575,261 L569,262 L566,258.5 L561.5,257 Z" fill="#e9e9e9" stroke="#3a3a3a" stroke-width="0.9"/>
<path d="M566,243 L574,243 L574,255 L570,258 L566,255 Z" fill="#cfcfcf" stroke="#444" stroke-width="0.7"/>
<path d="M569.5,246 L569.5,253 M572,250 L576,250 L576,257" stroke="#333" stroke-width="0.9" fill="none"/>
<path d="M569,262 L569,265.5 L572.5,265.5 L572.5,261.5" fill="#bbb" stroke="#333" stroke-width="0.7"/>
<path d="M536,236 L541.5,234.5 L549,242 L547,246.5 L540,244 Z" fill="#555" stroke="#333" stroke-width="0.6"/>
<path d="M537,236.8 L541.3,235.6 L546,240.3" stroke="#808080" stroke-width="1.1" fill="none"/>
<path d="M547,244.3 L551,246" stroke="#444" stroke-width="1.8"/>
<path d="M550.5,245.8 L556,247.8" stroke="#c8c8c8" stroke-width="1.8"/>
<path d="M489.0,82.5 L511.8,69.8" fill="none" stroke="#4e4e4e" stroke-width="20.3" stroke-linecap="butt" stroke-linejoin="round"/>
<path d="M489.0,82.5 L511.8,69.8" fill="none" stroke="#848484" stroke-width="18.7" stroke-linecap="butt" stroke-linejoin="round" transform="translate(-1.02,-2.23)"/>
<path d="M489.0,82.5 L511.8,69.8" fill="none" stroke="#b4b4b4" stroke-width="7.3" stroke-linecap="butt" stroke-linejoin="round" transform="translate(-2.03,-4.47)" filter="url(#b1)"/>
<ellipse cx="511.8" cy="69.8" rx="5.5" ry="10.2" transform="rotate(-29 511.8 69.8)" fill="#808080"/>
<ellipse cx="489" cy="82.5" rx="4.6" ry="10.4" transform="rotate(-29 489 82.5)" fill="#7c7c7c" stroke="#a8a8a8" stroke-width="0.9"/>
<ellipse cx="489.5" cy="82.3" rx="2" ry="4.2" transform="rotate(-32 489.5 82.3)" fill="#d8d8d8" stroke="#3c3c3c" stroke-width="0.8"/>
<line x1="483.5" y1="85.8" x2="490" y2="82" stroke="#111" stroke-width="1.2"/>
<path d="M583.0,164.8 L588.0,158.8 L598.5,162.3 L599.0,169.8 L593.5,175.6 L584.0,171.3 Z" fill="#3a3a3a" stroke="#222" stroke-width="0.7"/>
<path d="M583.6,164.7 L588.0,159.4 L597.8,162.6 L592.5,168.1 Z" fill="#666"/>
<path d="M592.5,168.1 L593.6,174.9" stroke="#5c5c5c" stroke-width="0.8"/>
<ellipse cx="595.5" cy="166" rx="1.5" ry="2" fill="#ddd" stroke="#222" stroke-width="0.6"/>
<path d="M596.5,166.3 L603,169.2" stroke="#555" stroke-width="1.7"/>
<path d="M445.0,290.4 L450.3,284.0 L461.4,287.7 L462.0,295.6 L456.1,301.8 L446.1,297.2 Z" fill="#3a3a3a" stroke="#222" stroke-width="0.7"/>
<path d="M445.7,290.2 L450.3,284.6 L460.7,288.0 L455.1,293.8 Z" fill="#666"/>
<path d="M455.1,293.8 L456.3,301.1" stroke="#5c5c5c" stroke-width="0.8"/>
<path d="M603,169 L608,171.5" stroke="#777" stroke-width="2.4"/>
<path d="M609,171 Q611,165.5 617,165.8 Q622,166.5 624.5,170.5 L624,174 L617.5,173.5 L616,180 L611.5,179.5 L611.5,174 Z" fill="#858585" stroke="#4a4a4a" stroke-width="0.7"/>
<path d="M611,169 Q614,166.5 619,167.5" stroke="#b8b8b8" stroke-width="1.3" fill="none"/>
<path d="M307.4,119.1 L307.4,51.3 L223,51.3 L223,142.5 L309.6,142.5 L348.8,130.8 Z" fill="none" stroke="#111" stroke-width="1.15" stroke-linejoin="miter"/>
<path d="M240.3,102.5 L241.5,95 L244,92.5 L247.5,96 L255.5,91.5 L262,94 L274.5,89.5 L283.5,94 L293,105 L291.8,116.5 L287.5,126 L281.5,131 L273.5,127.5 L263.5,122 L246,113.5 L240.3,108 Z" fill="#6c6c6c" stroke="#4a4a4a" stroke-width="0.7"/>
<path d="M242,103 L248,97.5 L256,93 L266,97.5 L270,103 L262,110 L254,112.5 L244,108 Z" fill="#8d8d8d" filter="url(#b05)"/>
<path d="M244,101.5 L256,94.5 L266,99" stroke="#a8a8a8" stroke-width="2.2" fill="none" filter="url(#b05)"/>
<path d="M241,107 L247,112.5 L264,121" stroke="#505050" stroke-width="2.2" fill="none" filter="url(#b05)"/>
<path d="M266,98 L275,91 L283,95 L291.5,105 L284,108 L273,103 Z" fill="#7d7d7d" filter="url(#b05)"/>
<path d="M267,106 L275,103.5 L287,109.5 L289,117 L283,124.5 L272,121 L265,114 Z" fill="#747474" stroke="#8e8e8e" stroke-width="0.7"/>
<path d="M265,114 L272,121 L283,124.5 L281,128 L272,125 L263,119 Z" fill="#505050"/>
<line x1="266.0" y1="115.5" x2="265.5" y2="119.5" stroke="#8a8a8a" stroke-width="0.8"/>
<line x1="268.6" y1="117.1" x2="268.1" y2="121.1" stroke="#8a8a8a" stroke-width="0.8"/>
<line x1="271.2" y1="118.7" x2="270.7" y2="122.7" stroke="#8a8a8a" stroke-width="0.8"/>
<line x1="273.8" y1="120.3" x2="273.3" y2="124.3" stroke="#8a8a8a" stroke-width="0.8"/>
<path d="M255.5,91.5 L255.5,84.5 L264,80.2 L275,87 L273.5,92.8 L266,97 Z" fill="#5c5c5c" stroke="#3c3c3c" stroke-width="0.7"/>
<path d="M256.5,84.8 L264,81.3 L273.8,87 L266.5,90.5 Z" fill="#7e7e7e"/>
<path d="M266.2,91 L266,96.5" stroke="#3a3a3a" stroke-width="0.8"/>
<path d="M241,96 Q241,92 244.5,92 Q248,92.5 248,96.5 L246,99.5 L241.5,99.5 Z" fill="#8a8a8a" stroke="#444" stroke-width="0.7"/>
<ellipse cx="244.6" cy="94.8" rx="1.5" ry="1.2" fill="#e8e8e8" stroke="#555" stroke-width="0.4"/>
<path d="M274.5,128 L276,132.5 L281,134.3 L286,131.5 L286.5,127 L281.5,131 Z" fill="#2f2f2f"/>
</g><g filter="url(#soft2)">
<line x1="493" y1="46.5" x2="493" y2="64.5" stroke="#111" stroke-width="1.3"/>
<text x="493.3" y="43.8" font-size="15.5" text-anchor="middle">10</text>
<line x1="282" y1="73.5" x2="282" y2="92.5" stroke="#111" stroke-width="1.3"/>
<text x="282" y="71" font-size="17" text-anchor="middle">8</text>
<circle cx="245.5" cy="64.1" r="8.8" fill="#fff" stroke="#111" stroke-width="1.15"/>
<text x="245.6" y="68" font-size="11.7" text-anchor="middle">9</text>
<line x1="245.7" y1="73.5" x2="245.7" y2="93" stroke="#111" stroke-width="1.2" stroke-dasharray="3.5 1.5 1 1.5"/>
<line x1="497" y1="137.5" x2="497" y2="156" stroke="#111" stroke-width="1.3"/>
<text x="497" y="135.5" font-size="15.5" text-anchor="middle">2</text>
<line x1="592.5" y1="145.5" x2="592.5" y2="159.5" stroke="#111" stroke-width="1.3"/>
<text x="592.5" y="143" font-size="15.5" text-anchor="middle">5</text>
<line x1="623.5" y1="172.9" x2="633.6" y2="172.9" stroke="#111" stroke-width="1.3"/>
<text x="639.4" y="178.3" font-size="15.5" text-anchor="middle">6</text>
<line x1="615.4" y1="178" x2="615.4" y2="185.5" stroke="#111" stroke-width="1.3"/>
<circle cx="615.4" cy="194.4" r="8.7" fill="#fff" stroke="#111" stroke-width="1.15"/>
<text x="615.5" y="198.4" font-size="11.7" text-anchor="middle">7</text>
<line x1="453" y1="301" x2="453" y2="319" stroke="#111" stroke-width="1.3"/>
<text x="453" y="333" font-size="15.5" text-anchor="middle">5</text>
<line x1="103.5" y1="272.5" x2="103.5" y2="310" stroke="#111" stroke-width="1.3"/>
<text x="103.6" y="270.2" font-size="15.5" text-anchor="middle">1</text>
<line x1="16.9" y1="325.5" x2="16.9" y2="349" stroke="#111" stroke-width="1.3"/>
<text x="17" y="323.5" font-size="15.5" text-anchor="middle">3</text>
<line x1="183.3" y1="396" x2="183.3" y2="410" stroke="#111" stroke-width="1.3"/>
<text x="183.3" y="424.5" font-size="15.5" text-anchor="middle">4</text>
<rect x="613.6" y="336.4" width="60" height="121.4" fill="#fff" stroke="#222" stroke-width="1.1"/>
<line x1="613.6" y1="377" x2="673.6" y2="377" stroke="#222" stroke-width="1.1"/>
<line x1="613.6" y1="417.2" x2="673.6" y2="417.2" stroke="#222" stroke-width="1.1"/>
<text x="624.3" y="351" font-size="15.5" text-anchor="middle">9</text>
<text x="624.3" y="391.5" font-size="15.5" text-anchor="middle">7</text>
<rect x="645" y="357" width="10.6" height="16.6" rx="1.2" fill="#9a9a9a" stroke="#7a7a7a" stroke-width="0.5"/>
<line x1="645" y1="361.3" x2="655.6" y2="360.2" stroke="#6e6e6e" stroke-width="0.9"/>
<line x1="645" y1="364.0" x2="655.6" y2="362.9" stroke="#6e6e6e" stroke-width="0.9"/>
<line x1="645" y1="366.7" x2="655.6" y2="365.6" stroke="#6e6e6e" stroke-width="0.9"/>
<line x1="645" y1="369.4" x2="655.6" y2="368.3" stroke="#6e6e6e" stroke-width="0.9"/>
<line x1="645" y1="372.1" x2="655.6" y2="371.0" stroke="#6e6e6e" stroke-width="0.9"/>
<ellipse cx="650" cy="353.5" rx="13" ry="5.6" fill="#a0a0a0" stroke="#808080" stroke-width="0.6"/>
<ellipse cx="650" cy="352.3" rx="11.5" ry="4.4" fill="#b0b0b0"/>
<path d="M641.3,350.5 L641.3,342.5 L645.5,338.6 L654.5,338.6 L658.8,342.5 L658.8,350.5 Q650,355.5 641.3,350.5 Z" fill="#a4a4a4" stroke="#7d7d7d" stroke-width="0.6"/>
<path d="M641.3,342.5 L645.5,338.6 L654.5,338.6 L658.8,342.5 L654.5,345.6 L645.5,345.6 Z" fill="#bababa" stroke="#8a8a8a" stroke-width="0.5"/>
<path d="M645.5,345.6 L645.5,352.5 M654.5,345.6 L654.5,352.5" stroke="#8a8a8a" stroke-width="0.7"/>
<ellipse cx="648.3" cy="404.8" rx="15" ry="7.8" fill="#9a9a9a" stroke="#7a7a7a" stroke-width="0.6"/>
<ellipse cx="648.3" cy="403.3" rx="13.6" ry="6.6" fill="#acacac"/>
<path d="M637,400.5 L637,391 L642.5,385.7 L654,385.7 L660,391 L660,400.5 Q648.5,407 637,400.5 Z" fill="#a2a2a2" stroke="#7a7a7a" stroke-width="0.6"/>
<path d="M637,391 L642.5,385.7 L654,385.7 L660,391 L654,396.5 L642.5,396.5 Z" fill="#b6b6b6" stroke="#888" stroke-width="0.5"/>
<ellipse cx="648.3" cy="391.6" rx="6.6" ry="3.7" fill="#808080" stroke="#6a6a6a" stroke-width="0.5"/>
<ellipse cx="648.8" cy="392.6" rx="5" ry="2.5" fill="#9a9a9a"/>
<path d="M642.5,396.5 L642.5,403 M654,396.5 L654,403" stroke="#888" stroke-width="0.7"/>
<path d="M618.7,448.8 L648.4,448.5 L650.9,450 L650.9,454.2 L618.7,454.2 Z" fill="#0a0a0a"/>
<path d="M642.5,444.5 L669,429.3 L669,433.5 L650.9,445 L650.9,450 L648.4,448.5 Z" fill="#0a0a0a"/>
<path d="M618.1,430.9 L626.2,435.3 L652.2,420.1 L669,429.3 L642.5,444.5 L648.4,448.5 L618.7,448.8 Z" fill="#fff" stroke="#0a0a0a" stroke-width="1.2" stroke-linejoin="miter"/>
</g>
<g filter="url(#b05)"><rect x="12.7" y="458" width="1.2" height="5" fill="#ebebeb"/><rect x="16.4" y="458" width="1.2" height="5" fill="#ebebeb"/><rect x="18.6" y="458" width="1.6" height="5" fill="#ebebeb"/><rect x="21.7" y="458" width="3.0" height="5" fill="#ebebeb"/><rect x="25.7" y="458" width="3.0" height="5" fill="#ebebeb"/><rect x="34.9" y="458" width="1.2" height="5" fill="#ebebeb"/><rect x="39.8" y="458" width="1.6" height="5" fill="#ebebeb"/><rect x="42.4" y="458" width="1.2" height="5" fill="#ebebeb"/><rect x="46.1" y="458" width="1.6" height="5" fill="#ebebeb"/><rect x="50.2" y="458" width="1.6" height="5" fill="#ebebeb"/><rect x="54.3" y="458" width="1.2" height="5" fill="#ebebeb"/><rect x="58.0" y="458" width="1.6" height="5" fill="#ebebeb"/><rect x="62.1" y="458" width="3.0" height="5" fill="#ebebeb"/><rect x="66.6" y="458" width="3.0" height="5" fill="#ebebeb"/><rect x="70.6" y="458" width="1.6" height="5" fill="#ebebeb"/><rect x="73.2" y="458" width="1.2" height="5" fill="#ebebeb"/><rect x="82.4" y="458" width="3.0" height="5" fill="#ebebeb"/><rect x="86.4" y="458" width="1.2" height="5" fill="#ebebeb"/><rect x="88.6" y="458" width="2.2" height="5" fill="#ebebeb"/><rect x="92.3" y="458" width="3.0" height="5" fill="#ebebeb"/></g>
</svg></body></html>
